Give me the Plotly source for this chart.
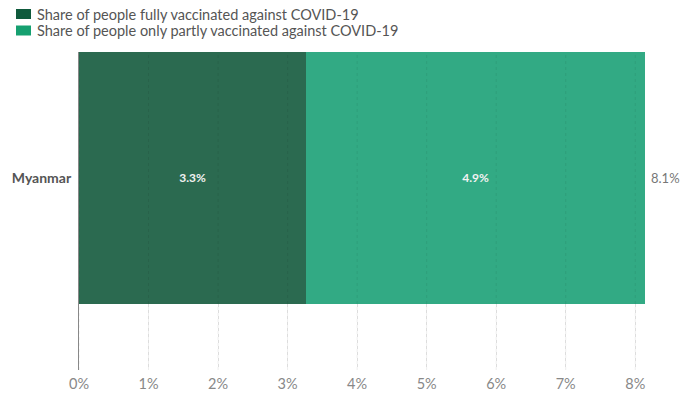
import plotly.graph_objects as go

countries = ["Myanmar"]
fully = [3.27]
partly = [4.87]
series_names = ["Share of people fully vaccinated against COVID-19",
                "Share of people only partly vaccinated against COVID-19"]
bar_colors = ["#2b6a50", "#32aa84"]
legend_colors = ["#0f5a3c", "#16a070"]
tick_vals = [0, 1, 2, 3, 4, 5, 6, 7, 8]
tick_text = ["0%", "1%", "2%", "3%", "4%", "5%", "6%", "7%", "8%"]

totals = [a + b for a, b in zip(fully, partly)]
ypos = list(range(len(countries)))

W, H = 694, 394
ML, MR, MT, MB = 79, 49, 52, 24

fig = go.Figure()
for vals, name, col in zip([fully, partly], series_names, bar_colors):
    fig.add_trace(go.Bar(
        y=ypos, x=vals, orientation="h", name=name,
        marker=dict(color=col, line=dict(width=0)),
        text=[f"{v:.1f}%" for v in vals], textposition="inside",
        insidetextanchor="middle", width=1,
        textfont=dict(color="#f2f2f2", size=12, family="Lato", weight=700),
        hoverinfo="skip", showlegend=False,
    ))
for y, t in zip(ypos, totals):
    fig.add_annotation(x=t, y=y, text=f"{t:.1f}%", showarrow=False,
                       xanchor="left", xshift=4,
                       font=dict(color="#777", size=13, family="Lato"))

# faint grid lines drawn over the bars
for v in tick_vals:
    fig.add_shape(type="line", xref="x", yref="paper", x0=v, x1=v, y0=0, y1=1,
                  line=dict(color="rgba(0,0,0,0.07)", width=1, dash="3px,3px"),
                  layer="above")

# manual legend (paper-relative squares + text)
pw = W - ML - MR
ph = H - MT - MB
for i, (name, col) in enumerate(zip(series_names, legend_colors)):
    yc = 14 + 16.5 * i
    x0 = (16 - ML) / pw
    x1 = (31 - ML) / pw
    ytop = (H - MB - (yc - 5)) / ph
    ybot = (H - MB - (yc + 5)) / ph
    fig.add_shape(type="rect", xref="paper", yref="paper",
                  x0=x0, x1=x1, y0=ybot, y1=ytop,
                  fillcolor=col, line=dict(width=0))
    fig.add_annotation(xref="paper", yref="paper",
                       x=(35 - ML) / pw, y=(H - MB - yc) / ph,
                       text=name, showarrow=False, xanchor="left",
                       yanchor="middle",
                       font=dict(size=14.5, color="#555", family="Lato"))

fig.update_layout(
    barmode="stack",
    width=W, height=H,
    margin=dict(l=ML, r=MR, t=MT, b=MB, autoexpand=False),
    paper_bgcolor="white", plot_bgcolor="white",
    font=dict(family="Lato", color="#555"),
    showlegend=False,
    xaxis=dict(range=[0, max(totals)], tickvals=tick_vals, ticktext=tick_text,
               showgrid=True, gridcolor="#dddddd", griddash="3px,3px",
               gridwidth=1, zeroline=False, showline=False,
               tickfont=dict(size=14.5, color="#888", family="Lato"),
               ticklabelstandoff=3,
               fixedrange=True),
    yaxis=dict(range=[-0.762, 0.5], tickvals=ypos, ticktext=countries,
               showgrid=False, zeroline=False, showline=True,
               linecolor="#888", linewidth=1,
               tickfont=dict(size=14, color="#555", family="Lato", weight=700),
               ticklabelstandoff=4,
               ticks="", fixedrange=True),
)
fig.write_html("out.html")
